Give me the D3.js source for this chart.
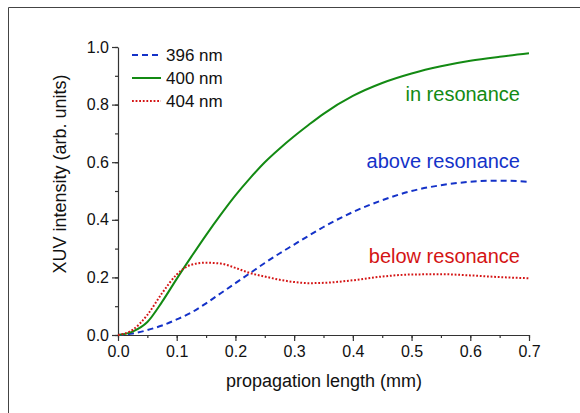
<!DOCTYPE html>
<meta charset="utf-8">
<style>
    body { margin: 0; background: #fff; }
    svg { display: block; }
    text { font-family: "Liberation Sans", Arial, sans-serif; fill: #111; }
    .axis path, .axis line { stroke: #333; stroke-width: 1.2px; }
    .axis text { font-size: 16px; font-family: "Liberation Sans", Arial, sans-serif; fill: #111; }
</style>
<svg width="580" height="413"></svg>
<script src="https://cdn.jsdelivr.net/npm/d3@7"></script>
<script>

    // propagation length (mm)
    var lengths = [0, 0.025, 0.05, 0.075, 0.1, 0.125, 0.15, 0.175, 0.2, 0.225, 0.25, 0.275, 0.3, 0.325, 0.35, 0.4, 0.45, 0.5, 0.55, 0.6, 0.65, 0.7];
    var nm396 = [0, 0.005, 0.017, 0.033, 0.054, 0.078, 0.11, 0.145, 0.18, 0.215, 0.25, 0.283, 0.314, 0.345, 0.375, 0.427, 0.468, 0.5, 0.52, 0.532, 0.536, 0.532];
    var nm400 = [0, 0.012, 0.045, 0.115, 0.195, 0.272, 0.347, 0.418, 0.485, 0.545, 0.6, 0.647, 0.69, 0.73, 0.768, 0.83, 0.875, 0.908, 0.933, 0.952, 0.966, 0.978];
    var nm404 = [0, 0.018, 0.07, 0.145, 0.21, 0.244, 0.251, 0.248, 0.233, 0.215, 0.203, 0.192, 0.184, 0.18, 0.181, 0.19, 0.203, 0.21, 0.211, 0.207, 0.201, 0.197];

    var xTicks = [0, 0.1, 0.2, 0.3, 0.4, 0.5, 0.6, 0.7];
    var yTicks = [0, 0.2, 0.4, 0.6, 0.8, 1.0];

    var series = [
        {name: "396 nm", values: nm396, color: "#1432c8", dash: "6,4", note: "above resonance", noteY: 167.5},
        {name: "400 nm", values: nm400, color: "#138a13", dash: null, note: "in resonance", noteY: 101},
        {name: "404 nm", values: nm404, color: "#d41414", dash: "1.8,1.8", note: "below resonance", noteY: 263}
    ];

    var svg = d3.select("svg");

    // outer frame (top + left edges)
    svg.append("path")
            .attr("d", "M8.5,413 L8.5,7.5 L580,7.5")
            .attr("fill", "none")
            .attr("stroke", "#444")
            .attr("stroke-width", 1);

    var x = d3.scaleLinear().domain([0, 0.7]).range([118, 529]);
    var y = d3.scaleLinear().domain([0, 1]).range([335, 47]);

    var xMinor = d3.range(0, 0.7001, 0.05);
    var yMinor = d3.range(0, 1.0001, 0.1);

    svg.append("g")
            .attr("class", "axis")
            .attr("transform", "translate(0,335)")
            .call(d3.axisBottom(x).tickValues(xMinor).tickSize(3).tickFormat(""))
            .call(function(g) { g.select(".domain").remove(); });

    svg.append("g")
            .attr("class", "axis")
            .attr("transform", "translate(0,335)")
            .call(d3.axisBottom(x).tickValues(xTicks).tickSize(6).tickSizeOuter(0).tickPadding(5).tickFormat(d3.format(".1f")));

    svg.append("g")
            .attr("class", "axis")
            .attr("transform", "translate(118,0)")
            .call(d3.axisLeft(y).tickValues(yMinor).tickSize(3).tickFormat(""))
            .call(function(g) { g.select(".domain").remove(); });

    svg.append("g")
            .attr("class", "axis")
            .attr("transform", "translate(118,0)")
            .call(d3.axisLeft(y).tickValues(yTicks).tickSize(6).tickSizeOuter(0).tickPadding(3).tickFormat(d3.format(".1f")));

    // axis titles
    svg.append("text")
            .attr("x", 324)
            .attr("y", 387)
            .attr("text-anchor", "middle")
            .style("font-size", "18px")
            .text("propagation length (mm)");

    svg.append("text")
            .attr("transform", "translate(66,174) rotate(-90)")
            .attr("text-anchor", "middle")
            .style("font-size", "18px")
            .text("XUV intensity (arb. units)");

    var line = d3.line()
            .x(function(d) { return x(d[0]); })
            .y(function(d) { return y(d[1]); })
            .curve(d3.curveMonotoneX);

    series.forEach(function(s) {
        svg.append("path")
                .datum(lengths.map(function(l, i) { return [l, s.values[i]]; }))
                .attr("fill", "none")
                .attr("stroke", s.color)
                .attr("stroke-width", 2)
                .attr("stroke-dasharray", s.dash)
                .attr("d", line);

        svg.append("text")
                .attr("x", 520)
                .attr("y", s.noteY)
                .attr("text-anchor", "end")
                .style("font-size", "20px")
                .style("fill", s.color)
                .text(s.note);
    });

    // legend
    var legend = svg.append("g").attr("transform", "translate(132,55)");
    series.forEach(function(s, i) {
        legend.append("line")
                .attr("x1", 0).attr("x2", 29)
                .attr("y1", i * 23).attr("y2", i * 23)
                .attr("stroke", s.color)
                .attr("stroke-width", 2)
                .attr("stroke-dasharray", s.dash);
        legend.append("text")
                .attr("x", 34)
                .attr("y", i * 23 + 6)
                .style("font-size", "17px")
                .text(s.name);
    });

</script>
